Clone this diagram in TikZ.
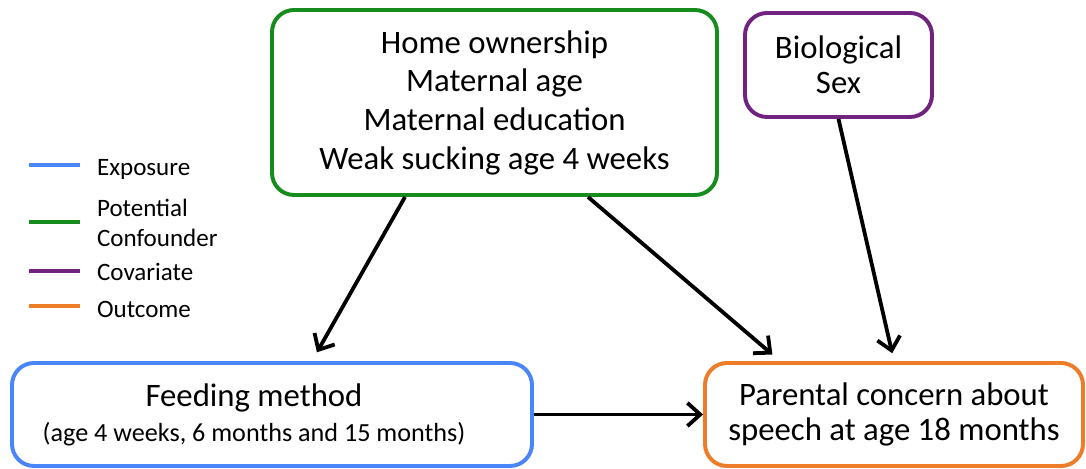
\documentclass[tikz,border=0pt]{standalone}
\usepackage{fontspec}
\setmainfont{Carlito}
\usetikzlibrary{positioning}
\usetikzlibrary{arrows.meta}

\definecolor{expblue}{RGB}{74,134,247}
\definecolor{confgreen}{RGB}{22,140,30}
\definecolor{covpurple}{RGB}{112,36,128}
\definecolor{outorange}{RGB}{237,125,40}

\tikzset{
  varbox/.style={draw, line width=2.8pt, rounded corners=0.55cm, align=center, fill=white, font=\fontsize{23.3}{25}\selectfont},
  arr/.style={line width=2.7pt, -{Straight Barb[length=0.32cm,width=0.58cm]}},
  legline/.style={line width=2.6pt},
  legtext/.style={font=\fontsize{17.8}{21.3}\selectfont, anchor=west, align=left, inner sep=0pt},
}

\begin{document}
\begin{tikzpicture}
\useasboundingbox (0,0) rectangle (27.15,11.725);
\node[varbox,draw=confgreen,minimum width=11.125cm,minimum height=4.625cm,font=\fontsize{23.3}{27.5}\selectfont] (conf) at (12.3625,9.1625) {Home ownership\\Maternal age\\Maternal education\\Weak sucking age 4 weeks};
\node[varbox,draw=covpurple,minimum width=4.675cm,minimum height=2.6cm] (sex) at (20.9625,10.1) {Biological\\Sex};
\node[varbox,draw=expblue,minimum width=13cm,minimum height=2.575cm] (feed) at (6.8,1.3625) {Feeding method\hspace*{0.9cm}\\{\fontsize{18.6}{23.5}\selectfont (age 4 weeks, 6 months and 15 months)\hspace*{0.9cm}}};
\node[varbox,draw=outorange,minimum width=9.45cm,minimum height=2.575cm] (speech) at (22.35,1.3625) {Parental concern about\\speech at age 18 months};

\draw[arr,shorten >=0.25cm] ([xshift=-2.2375cm]conf.south) -- ([xshift=1cm]feed.north);
\draw[arr,shorten >=0.25cm] ([xshift=2.3375cm]conf.south) -- ([xshift=-2.85cm]speech.north);
\draw[arr,shorten >=0.2cm] (sex.south) -- (speech.north);
\draw[arr] (feed) -- (speech);

% legend
\draw[legline,expblue] (0.725,7.6) -- (2.0,7.6);
\node[legtext] (lexp) at (2.42,7.5) {Exposure};
\draw[legline,confgreen] (0.725,6.175) -- (2.0,6.175);
\node[legtext] (lconf) at (2.42,6.15) {Potential\\Confounder};
\draw[legline,covpurple] (0.725,4.95) -- (2.0,4.95);
\node[legtext] (lcov) at (2.42,4.92) {Covariate};
\draw[legline,outorange] (0.725,4.075) -- (2.0,4.075);
\node[legtext] (lout) at (2.42,4.0) {Outcome};

\end{tikzpicture}
\end{document}
